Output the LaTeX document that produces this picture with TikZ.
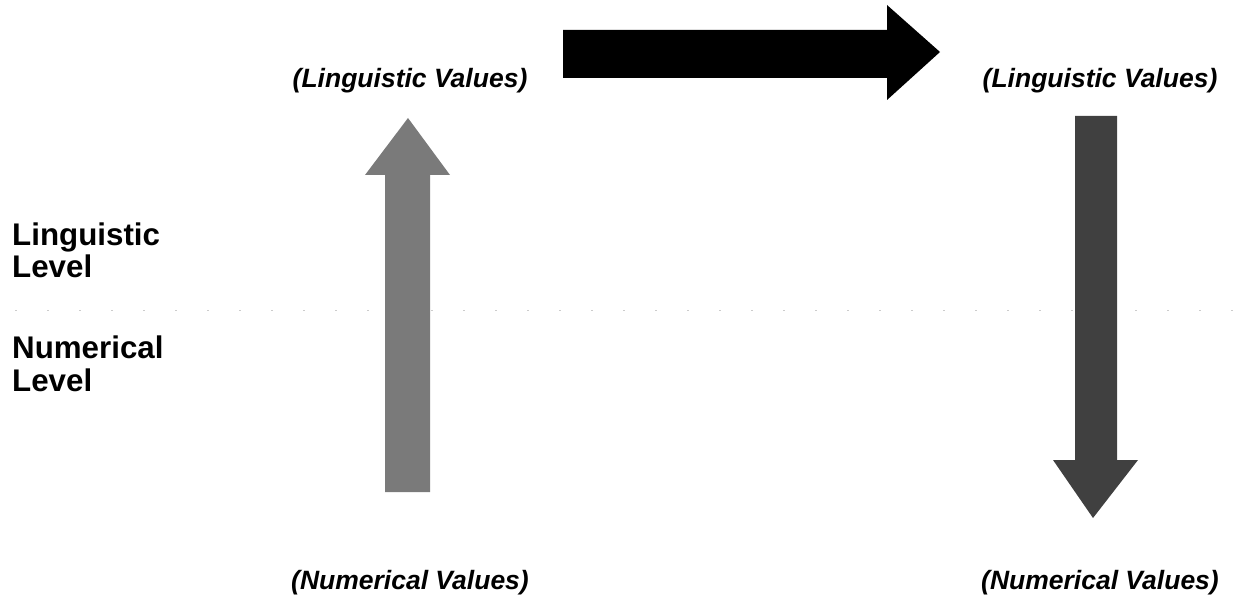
\documentclass[tikz,border=0pt]{standalone}
\usepackage{fontspec}
\setmainfont{Liberation Sans}
\begin{document}
\begin{tikzpicture}[x=1bp,y=-1bp,
  vallabel/.style={anchor=base,inner sep=0pt,font=\fontsize{26.5bp}{30bp}\selectfont\bfseries\itshape},
  levellabel/.style={anchor=base west,inner sep=0pt,align=left,font=\fontsize{31.3bp}{32.5bp}\selectfont\bfseries}]
\useasboundingbox (0,0) rectangle (1235,609);
% level separator
\draw[gray!40,dash pattern=on 2bp off 30bp,line width=0.6bp] (15,310) -- (1235,310);
% labels
\node[vallabel] (lvL) at (410,88) {(Linguistic Values)};
\node[vallabel] (lvR) at (1100,88) {(Linguistic Values)};
\node[vallabel] (nvL) at (410,589) {(Numerical Values)};
\node[vallabel] (nvR) at (1100,589) {(Numerical Values)};
\node[levellabel] (ling) at (12,278) {Linguistic\\Level};
\node[levellabel] (num) at (12,391) {Numerical\\Level};
% up arrow (gray)
\fill[black!52] (385,492) -- (385,175) -- (365,175) -- (408,118) -- (450,175) -- (430,175) -- (430,492) -- cycle;
% horizontal arrow (black)
\fill[black] (563,30) -- (887,30) -- (887,5) -- (940,52) -- (887,100) -- (887,78) -- (563,78) -- cycle;
% down arrow (dark gray)
\fill[black!75] (1075,116) -- (1117,116) -- (1117,460) -- (1138,460) -- (1093,518) -- (1053,460) -- (1075,460) -- cycle;
\end{tikzpicture}
\end{document}
